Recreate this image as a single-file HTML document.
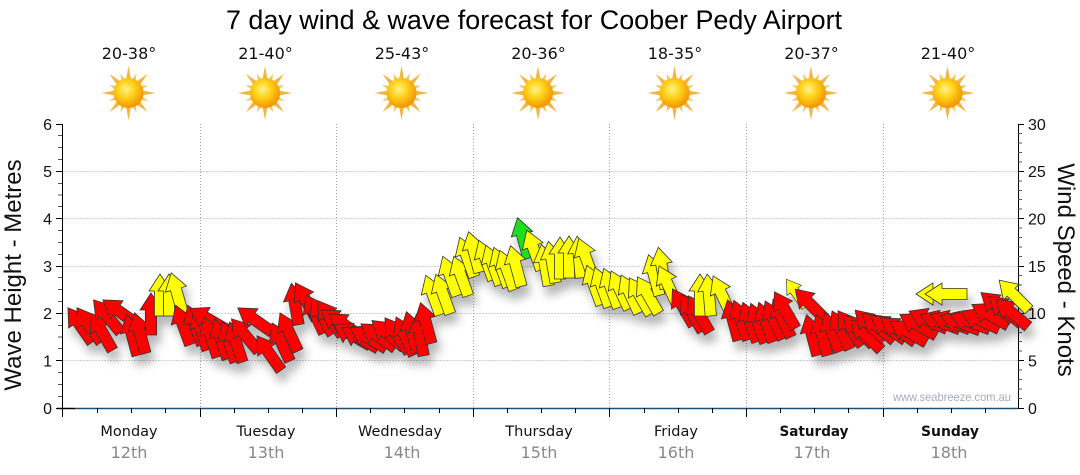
<!DOCTYPE html>
<html><head><meta charset="utf-8"><style>
html,body{margin:0;padding:0;background:#fff;}
body{width:1080px;height:475px;overflow:hidden;}
svg{display:block;}
</style></head><body>
<svg width="1080" height="475" viewBox="0 0 1080 475" xmlns="http://www.w3.org/2000/svg">
<defs>
<radialGradient id="sg" cx="42%" cy="38%" r="62%">
<stop offset="0" stop-color="#fff38a"/><stop offset="0.45" stop-color="#ffd21a"/><stop offset="1" stop-color="#f29400"/>
</radialGradient>
<g id="sun">
<g fill="#f3b441">
<polygon points="-2.6,-13 0,-27 2.6,-13"/>
<polygon points="-2.6,-13 0,-27 2.6,-13" transform="rotate(45)"/>
<polygon points="-2.6,-13 0,-27 2.6,-13" transform="rotate(90)"/>
<polygon points="-2.6,-13 0,-27 2.6,-13" transform="rotate(135)"/>
<polygon points="-2.6,-13 0,-27 2.6,-13" transform="rotate(180)"/>
<polygon points="-2.6,-13 0,-27 2.6,-13" transform="rotate(225)"/>
<polygon points="-2.6,-13 0,-27 2.6,-13" transform="rotate(270)"/>
<polygon points="-2.6,-13 0,-27 2.6,-13" transform="rotate(315)"/>
</g>
<g fill="#f7c65a">
<polygon points="-2.2,-13 0,-21 2.2,-13" transform="rotate(22.5)"/>
<polygon points="-2.2,-13 0,-21 2.2,-13" transform="rotate(67.5)"/>
<polygon points="-2.2,-13 0,-21 2.2,-13" transform="rotate(112.5)"/>
<polygon points="-2.2,-13 0,-21 2.2,-13" transform="rotate(157.5)"/>
<polygon points="-2.2,-13 0,-21 2.2,-13" transform="rotate(202.5)"/>
<polygon points="-2.2,-13 0,-21 2.2,-13" transform="rotate(247.5)"/>
<polygon points="-2.2,-13 0,-21 2.2,-13" transform="rotate(292.5)"/>
<polygon points="-2.2,-13 0,-21 2.2,-13" transform="rotate(337.5)"/>
</g>
<circle r="15" fill="url(#sg)"/>
</g>
<polygon id="a" points="0,-21 11,-4 5.6,-4 5.6,21 -5.6,21 -5.6,-4 -11,-4"/>
<filter id="sh" x="-10%" y="-20%" width="120%" height="160%">
<feDropShadow dx="4" dy="9" stdDeviation="4.5" flood-color="#000" flood-opacity="0.28"/>
</filter>
</defs>

<!-- Title -->
<text x="226" y="29" font-family="Liberation Sans, Arial, sans-serif" font-size="27" fill="#000" textLength="616" lengthAdjust="spacingAndGlyphs">7 day wind &amp; wave forecast for Coober Pedy Airport</text>

<!-- temps -->
<g font-family="DejaVu Sans, Verdana, sans-serif" font-size="16" fill="#111" text-anchor="middle">
<text x="129" y="59">20-38°</text>
<text x="265.5" y="59">21-40°</text>
<text x="402" y="59">25-43°</text>
<text x="538.5" y="59">20-36°</text>
<text x="675" y="59">18-35°</text>
<text x="811.5" y="59">20-37°</text>
<text x="948" y="59">21-40°</text>
</g>
<use href="#sun" transform="translate(128.5,93)"/>
<use href="#sun" transform="translate(265,93)"/>
<use href="#sun" transform="translate(401.5,93)"/>
<use href="#sun" transform="translate(538,93)"/>
<use href="#sun" transform="translate(674.5,93)"/>
<use href="#sun" transform="translate(811,93)"/>
<use href="#sun" transform="translate(947.5,93)"/>

<!-- grid -->
<g stroke="#a0a0a0" stroke-width="1" stroke-dasharray="1,2" fill="none">
<path d="M62.5,360.5H1018M62.5,313.5H1018M62.5,266.5H1018M62.5,218.5H1018M62.5,171.5H1018"/>
<path d="M200.5,124V408M336.5,124V408M473.5,124V408M609.5,124V408M746.5,124V408M883.5,124V408"/>
</g>

<!-- axes -->
<g stroke="#000" stroke-width="1" fill="none">
<path d="M62.5,124V417"/>
<path d="M1018.5,124V408"/>
<path d="M56,408.5H62M56,360.5H62M56,313.5H62M56,266.5H62M56,218.5H62M56,171.5H62M56,124.5H62"/>
<path d="M1018,408.5H1024M1018,360.5H1024M1018,313.5H1024M1018,266.5H1024M1018,218.5H1024M1018,171.5H1024M1018,124.5H1024"/>
</g>
<g stroke="#555" stroke-width="1" fill="none">
<path d="M58,396.5H62M58,384.5H62M58,372.5H62M58,348.5H62M58,337H62M58,325.5H62M58,301.5H62M58,289.5H62M58,277.5H62M58,254.5H62M58,242.5H62M58,230.5H62M58,206.5H62M58,195H62M58,183.5H62M58,159.5H62M58,147.5H62M58,135.5H62"/>
<path d="M1018,398.5H1022M1018,389H1022M1018,379.5H1022M1018,370H1022M1018,351H1022M1018,341.5H1022M1018,332.5H1022M1018,323H1022M1018,304H1022M1018,294.5H1022M1018,285H1022M1018,275.5H1022M1018,256.5H1022M1018,247H1022M1018,237.5H1022M1018,228H1022M1018,209H1022M1018,199.5H1022M1018,190.5H1022M1018,181H1022M1018,162H1022M1018,152.5H1022M1018,143H1022M1018,133.5H1022"/>
</g>
<path d="M57,408.5H75" stroke="#000" stroke-width="1.5"/>
<path d="M75,408.5H1018" stroke="#1c4f78" stroke-width="1.6"/>
<g stroke="#000" stroke-width="1" fill="none">
<path d="M200.5,408V417M336.5,408V417M473.5,408V417M609.5,408V417M746.5,408V417M883.5,408V417"/>
<path d="M97.5,408V413M131.5,408V413M165.5,408V413M234.5,408V413M268.5,408V413M302.5,408V413M370.5,408V413M404.5,408V413M439.5,408V413M507.5,408V413M541.5,408V413M575.5,408V413M644.5,408V413M678.5,408V413M712.5,408V413M780.5,408V413M814.5,408V413M848.5,408V413M917.5,408V413M951.5,408V413M985.5,408V413"/>
</g>

<!-- tick labels -->
<g font-family="Liberation Sans, Arial, sans-serif" font-size="16" fill="#111">
<g text-anchor="end">
<text x="52" y="414">0</text><text x="52" y="366.5">1</text><text x="52" y="319">2</text><text x="52" y="272">3</text><text x="52" y="224.5">4</text><text x="52" y="177">5</text><text x="52" y="130">6</text>
</g>
<g text-anchor="start">
<text x="1028" y="414">0</text><text x="1028" y="366.5">5</text><text x="1028" y="319">10</text><text x="1028" y="272">15</text><text x="1028" y="224.5">20</text><text x="1028" y="177">25</text><text x="1028" y="130">30</text>
</g>
</g>

<!-- axis titles -->
<text transform="translate(21,275) rotate(-90)" text-anchor="middle" font-family="Liberation Sans, Arial, sans-serif" font-size="24" fill="#111">Wave Height - Metres</text>
<text transform="translate(1058,270) rotate(90)" text-anchor="middle" font-family="Liberation Sans, Arial, sans-serif" font-size="24" fill="#111">Wind Speed - Knots</text>

<!-- day labels -->
<g font-family="DejaVu Sans, Verdana, sans-serif" text-anchor="middle">
<g font-size="14.5" fill="#111">
<text x="129" y="436">Monday</text>
<text x="266" y="436">Tuesday</text>
<text x="400" y="436">Wednesday</text>
<text x="539" y="436">Thursday</text>
<text x="676" y="436">Friday</text>
<text x="814" y="436" font-weight="bold" textLength="69" lengthAdjust="spacingAndGlyphs">Saturday</text>
<text x="950" y="436" font-weight="bold" textLength="58" lengthAdjust="spacingAndGlyphs">Sunday</text>
</g>
<g font-size="16" fill="#888">
<text x="129" y="458">12th</text>
<text x="266" y="458">13th</text>
<text x="402" y="458">14th</text>
<text x="539" y="458">15th</text>
<text x="676" y="458">16th</text>
<text x="812" y="458">17th</text>
<text x="949" y="458">18th</text>
</g>
</g>

<!-- watermark -->
<text x="893" y="401" font-family="Liberation Sans, Arial, sans-serif" font-size="12" fill="#a4acb8" textLength="118" lengthAdjust="spacingAndGlyphs">www.seabreeze.com.au</text>

<!-- arrows -->
<g filter="url(#sh)" stroke="#333" stroke-width="0.8" stroke-linejoin="miter">
<use href="#a" fill="#ff0000" transform="translate(80,325) rotate(-35)"/>
<use href="#a" fill="#ff0000" transform="translate(89,325) rotate(-35)"/>
<use href="#a" fill="#ff0000" transform="translate(102,332) rotate(-30)"/>
<use href="#a" fill="#ff0000" transform="translate(107,316) rotate(-40)"/>
<use href="#a" fill="#ff0000" transform="translate(120,312) rotate(-55)"/>
<use href="#a" fill="#ff0000" transform="translate(132,335) rotate(-15)"/>
<use href="#a" fill="#ff0000" transform="translate(140,333) rotate(-15)"/>
<use href="#a" fill="#ff0000" transform="translate(151,314) rotate(0)"/>
<use href="#a" fill="#ffff00" transform="translate(160,295) rotate(0)"/>
<use href="#a" fill="#ffff00" transform="translate(169,295) rotate(0)"/>
<use href="#a" fill="#ffff00" transform="translate(177,293) rotate(-16)"/>
<use href="#a" fill="#ff0000" transform="translate(183,325) rotate(-20)"/>
<use href="#a" fill="#ff0000" transform="translate(195,325) rotate(-20)"/>
<use href="#a" fill="#ff0000" transform="translate(201,330) rotate(-18)"/>
<use href="#a" fill="#ff0000" transform="translate(208,319) rotate(-60)"/>
<use href="#a" fill="#ff0000" transform="translate(211,337) rotate(-18)"/>
<use href="#a" fill="#ff0000" transform="translate(221,339) rotate(-18)"/>
<use href="#a" fill="#ff0000" transform="translate(229,342) rotate(-18)"/>
<use href="#a" fill="#ff0000" transform="translate(236,342) rotate(-18)"/>
<use href="#a" fill="#ff0000" transform="translate(245,335) rotate(-40)"/>
<use href="#a" fill="#ff0000" transform="translate(255,320) rotate(-55)"/>
<use href="#a" fill="#ff0000" transform="translate(269,353) rotate(-35)"/>
<use href="#a" fill="#ff0000" transform="translate(281,342) rotate(-25)"/>
<use href="#a" fill="#ff0000" transform="translate(289,332) rotate(-25)"/>
<use href="#a" fill="#ff0000" transform="translate(295,304) rotate(-10)"/>
<use href="#a" fill="#ff0000" transform="translate(306,301) rotate(-30)"/>
<use href="#a" fill="#ff0000" transform="translate(315,314) rotate(-25)"/>
<use href="#a" fill="#ff0000" transform="translate(322,316) rotate(-30)"/>
<use href="#a" fill="#ff0000" transform="translate(330,318) rotate(-35)"/>
<use href="#a" fill="#ff0000" transform="translate(338,322) rotate(-55)"/>
<use href="#a" fill="#ff0000" transform="translate(346,326) rotate(-55)"/>
<use href="#a" fill="#ff0000" transform="translate(352,335) rotate(-60)"/>
<use href="#a" fill="#ff0000" transform="translate(360,338) rotate(-60)"/>
<use href="#a" fill="#ff0000" transform="translate(368,338) rotate(-60)"/>
<use href="#a" fill="#ff0000" transform="translate(378,336) rotate(-55)"/>
<use href="#a" fill="#ff0000" transform="translate(388,334) rotate(-50)"/>
<use href="#a" fill="#ff0000" transform="translate(397,335) rotate(-35)"/>
<use href="#a" fill="#ff0000" transform="translate(405,336) rotate(-25)"/>
<use href="#a" fill="#ff0000" transform="translate(412,332) rotate(-15)"/>
<use href="#a" fill="#ff0000" transform="translate(420,335) rotate(-10)"/>
<use href="#a" fill="#ff0000" transform="translate(426,323) rotate(-15)"/>
<use href="#a" fill="#ffff00" transform="translate(433,295) rotate(-20)"/>
<use href="#a" fill="#ffff00" transform="translate(443,294) rotate(-20)"/>
<use href="#a" fill="#ffff00" transform="translate(450,276) rotate(-20)"/>
<use href="#a" fill="#ffff00" transform="translate(461,276) rotate(-20)"/>
<use href="#a" fill="#ffff00" transform="translate(467,257) rotate(-20)"/>
<use href="#a" fill="#ffff00" transform="translate(474,252) rotate(-15)"/>
<use href="#a" fill="#ffff00" transform="translate(486,260) rotate(-20)"/>
<use href="#a" fill="#ffff00" transform="translate(493,265) rotate(-20)"/>
<use href="#a" fill="#ffff00" transform="translate(501,267) rotate(-20)"/>
<use href="#a" fill="#ffff00" transform="translate(507,270) rotate(-20)"/>
<use href="#a" fill="#1ee01e" transform="translate(523,238) rotate(-15)"/>
<use href="#a" fill="#ffff00" transform="translate(516,266) rotate(-15)"/>
<use href="#a" fill="#ffff00" transform="translate(534,250) rotate(-20)"/>
<use href="#a" fill="#ffff00" transform="translate(545,265) rotate(-10)"/>
<use href="#a" fill="#ffff00" transform="translate(552,262) rotate(-10)"/>
<use href="#a" fill="#ffff00" transform="translate(560,258) rotate(0)"/>
<use href="#a" fill="#ffff00" transform="translate(569,257) rotate(0)"/>
<use href="#a" fill="#ffff00" transform="translate(579,257) rotate(-5)"/>
<use href="#a" fill="#ffff00" transform="translate(586,258) rotate(-20)"/>
<use href="#a" fill="#ffff00" transform="translate(594,285) rotate(-20)"/>
<use href="#a" fill="#ffff00" transform="translate(602,287) rotate(-20)"/>
<use href="#a" fill="#ffff00" transform="translate(611,288) rotate(-20)"/>
<use href="#a" fill="#ffff00" transform="translate(620,290) rotate(-25)"/>
<use href="#a" fill="#ffff00" transform="translate(630,294) rotate(-25)"/>
<use href="#a" fill="#ffff00" transform="translate(640,296) rotate(-30)"/>
<use href="#a" fill="#ffff00" transform="translate(648,295) rotate(-30)"/>
<use href="#a" fill="#ffff00" transform="translate(654,275) rotate(-15)"/>
<use href="#a" fill="#ffff00" transform="translate(662,268) rotate(-10)"/>
<use href="#a" fill="#ffff00" transform="translate(668,285) rotate(-25)"/>
<use href="#a" fill="#ff0000" transform="translate(683,307) rotate(-30)"/>
<use href="#a" fill="#ff0000" transform="translate(692,313) rotate(-30)"/>
<use href="#a" fill="#ff0000" transform="translate(699,314) rotate(-30)"/>
<use href="#a" fill="#ffff00" transform="translate(700,295) rotate(0)"/>
<use href="#a" fill="#ffff00" transform="translate(709,295) rotate(-5)"/>
<use href="#a" fill="#ffff00" transform="translate(722,295) rotate(-25)"/>
<use href="#a" fill="#ff0000" transform="translate(733,320) rotate(-15)"/>
<use href="#a" fill="#ff0000" transform="translate(741,320) rotate(-20)"/>
<use href="#a" fill="#ff0000" transform="translate(750,322) rotate(-20)"/>
<use href="#a" fill="#ff0000" transform="translate(758,323) rotate(-20)"/>
<use href="#a" fill="#ff0000" transform="translate(766,322) rotate(-20)"/>
<use href="#a" fill="#ff0000" transform="translate(774,320) rotate(-25)"/>
<use href="#a" fill="#ff0000" transform="translate(782,318) rotate(-25)"/>
<use href="#a" fill="#ff0000" transform="translate(785,310) rotate(-30)"/>
<use href="#a" fill="#ffff00" transform="translate(796,293) rotate(-35) scale(0.8)"/>
<use href="#a" fill="#ff0000" transform="translate(810,304) rotate(-45)"/>
<use href="#a" fill="#ff0000" transform="translate(812,335) rotate(-15)"/>
<use href="#a" fill="#ff0000" transform="translate(822,335) rotate(-15)"/>
<use href="#a" fill="#ff0000" transform="translate(832,332) rotate(-20)"/>
<use href="#a" fill="#ff0000" transform="translate(841,330) rotate(-25)"/>
<use href="#a" fill="#ff0000" transform="translate(850,328) rotate(-35)"/>
<use href="#a" fill="#ff0000" transform="translate(858,330) rotate(-45)"/>
<use href="#a" fill="#ff0000" transform="translate(866,335) rotate(-45)"/>
<use href="#a" fill="#ff0000" transform="translate(870,325) rotate(-45)"/>
<use href="#a" fill="#ff0000" transform="translate(878,327) rotate(-50)"/>
<use href="#a" fill="#ff0000" transform="translate(888,328) rotate(-55)"/>
<use href="#a" fill="#ff0000" transform="translate(898,330) rotate(-55)"/>
<use href="#a" fill="#ff0000" transform="translate(908,332) rotate(-60)"/>
<use href="#a" fill="#ff0000" transform="translate(918,325) rotate(-60)"/>
<use href="#a" fill="#ff0000" transform="translate(928,320) rotate(-65)"/>
<use href="#a" fill="#ff0000" transform="translate(940,322) rotate(-70)"/>
<use href="#a" fill="#ff0000" transform="translate(950,322) rotate(-70)"/>
<use href="#a" fill="#ff0000" transform="translate(960,323) rotate(-70)"/>
<use href="#a" fill="#ff0000" transform="translate(970,322) rotate(-70)"/>
<use href="#a" fill="#ff0000" transform="translate(980,320) rotate(-65)"/>
<use href="#a" fill="#ffff00" transform="translate(937,294) rotate(-90)"/>
<use href="#a" fill="#ffff00" transform="translate(946,294) rotate(-90)"/>
<use href="#a" fill="#ff0000" transform="translate(990,315) rotate(-60)"/>
<use href="#a" fill="#ff0000" transform="translate(997,306) rotate(-50)"/>
<use href="#a" fill="#ff0000" transform="translate(1005,310) rotate(-50)"/>
<use href="#a" fill="#ff0000" transform="translate(1012,313) rotate(-50)"/>
<use href="#a" fill="#ffff00" transform="translate(1014,295) rotate(-45)"/>
</g>
</svg>
</body></html>
